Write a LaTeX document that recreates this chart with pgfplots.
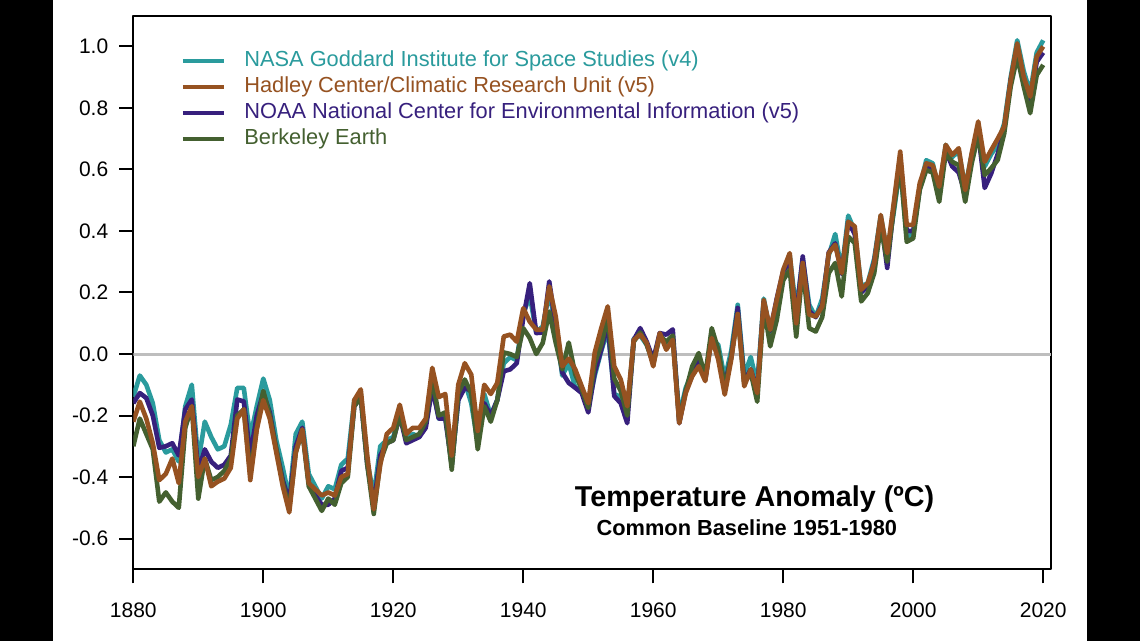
\documentclass[border=0pt]{standalone}
\usepackage{fontspec}
\setmainfont{Liberation Sans}
\usepackage{pgfplots}
\usepackage{pgfplotstable}
\pgfplotsset{compat=1.18}
\definecolor{cnasa}{RGB}{42,155,157}
\definecolor{chad}{RGB}{150,82,33}
\definecolor{cnoaa}{RGB}{55,32,125}
\definecolor{cber}{RGB}{68,96,48}
\definecolor{czero}{RGB}{190,190,190}

\pgfplotstableread{
year nasa hadley noaa berkeley
1880 -0.14 -0.22 -0.16 -0.30
1881 -0.07 -0.155 -0.127 -0.21
1882 -0.10 -0.21 -0.143 -0.26
1883 -0.16 -0.29 -0.20 -0.31
1884 -0.28 -0.41 -0.305 -0.48
1885 -0.32 -0.39 -0.30 -0.45
1886 -0.31 -0.34 -0.29 -0.48
1887 -0.35 -0.42 -0.33 -0.50
1888 -0.17 -0.22 -0.18 -0.24
1889 -0.10 -0.17 -0.148 -0.17
1890 -0.35 -0.40 -0.38 -0.47
1891 -0.22 -0.34 -0.31 -0.34
1892 -0.27 -0.43 -0.35 -0.41
1893 -0.31 -0.415 -0.37 -0.40
1894 -0.30 -0.405 -0.36 -0.38
1895 -0.23 -0.37 -0.33 -0.34
1896 -0.11 -0.21 -0.148 -0.20
1897 -0.11 -0.18 -0.154 -0.18
1898 -0.27 -0.41 -0.33 -0.39
1899 -0.17 -0.245 -0.20 -0.24
1900 -0.08 -0.15 -0.127 -0.12
1901 -0.15 -0.21 -0.19 -0.20
1902 -0.28 -0.32 -0.31 -0.31
1903 -0.37 -0.43 -0.41 -0.42
1904 -0.47 -0.515 -0.48 -0.50
1905 -0.26 -0.32 -0.30 -0.32
1906 -0.22 -0.245 -0.24 -0.25
1907 -0.39 -0.42 -0.42 -0.43
1908 -0.43 -0.44 -0.46 -0.47
1909 -0.47 -0.46 -0.49 -0.51
1910 -0.43 -0.45 -0.49 -0.47
1911 -0.44 -0.46 -0.47 -0.49
1912 -0.36 -0.40 -0.38 -0.42
1913 -0.34 -0.39 -0.37 -0.40
1914 -0.15 -0.15 -0.17 -0.17
1915 -0.13 -0.115 -0.14 -0.14
1916 -0.35 -0.33 -0.36 -0.36
1917 -0.46 -0.505 -0.49 -0.52
1918 -0.30 -0.36 -0.33 -0.35
1919 -0.28 -0.26 -0.29 -0.29
1920 -0.27 -0.24 -0.28 -0.28
1921 -0.19 -0.165 -0.20 -0.197
1922 -0.28 -0.26 -0.29 -0.28
1923 -0.26 -0.24 -0.28 -0.27
1924 -0.27 -0.24 -0.27 -0.26
1925 -0.22 -0.21 -0.24 -0.22
1926 -0.10 -0.045 -0.11 -0.08
1927 -0.21 -0.14 -0.21 -0.20
1928 -0.20 -0.13 -0.21 -0.19
1929 -0.36 -0.33 -0.36 -0.376
1930 -0.15 -0.10 -0.15 -0.127
1931 -0.09 -0.03 -0.11 -0.083
1932 -0.16 -0.067 -0.12 -0.127
1933 -0.29 -0.25 -0.28 -0.31
1934 -0.13 -0.10 -0.16 -0.17
1935 -0.20 -0.13 -0.20 -0.22
1936 -0.15 -0.094 -0.15 -0.15
1937 -0.03 0.057 -0.056 0.005
1938 -0.01 0.063 -0.05 0.0
1939 -0.02 0.04 -0.03 -0.01
1940 0.13 0.149 0.117 0.084
1941 0.19 0.105 0.23 0.052
1942 0.07 0.079 0.068 0.0
1943 0.09 0.079 0.07 0.036
1944 0.20 0.22 0.236 0.138
1945 0.09 0.122 0.09 0.036
1946 -0.07 -0.04 -0.06 -0.05
1947 -0.03 -0.015 -0.094 0.037
1948 -0.11 -0.05 -0.11 -0.066
1949 -0.11 -0.105 -0.127 -0.115
1950 -0.17 -0.16 -0.19 -0.175
1951 -0.07 0.005 -0.06 -0.03
1952 0.01 0.084 0.014 0.03
1953 0.08 0.155 0.10 0.12
1954 -0.13 -0.04 -0.137 -0.08
1955 -0.14 -0.083 -0.16 -0.12
1956 -0.19 -0.17 -0.225 -0.20
1957 0.05 0.046 0.046 0.04
1958 0.06 0.063 0.084 0.07
1959 0.03 0.036 0.04 0.03
1960 -0.03 -0.04 -0.018 -0.03
1961 0.06 0.068 0.068 0.06
1962 0.03 0.014 0.063 0.04
1963 0.05 0.046 0.08 0.06
1964 -0.20 -0.225 -0.225 -0.22
1965 -0.11 -0.127 -0.12 -0.12
1966 -0.06 -0.072 -0.07 -0.04
1967 -0.02 -0.04 -0.02 0.003
1968 -0.08 -0.088 -0.085 -0.072
1969 0.05 0.052 0.06 0.084
1970 0.03 -0.018 0.0 0.014
1971 -0.08 -0.132 -0.10 -0.11
1972 0.01 -0.018 -0.01 -0.01
1973 0.16 0.13 0.15 0.13
1974 -0.07 -0.105 -0.09 -0.095
1975 -0.01 -0.05 -0.05 -0.06
1976 -0.10 -0.127 -0.12 -0.155
1977 0.18 0.176 0.17 0.155
1978 0.07 0.079 0.075 0.025
1979 0.16 0.176 0.18 0.11
1980 0.26 0.274 0.27 0.24
1981 0.32 0.328 0.30 0.274
1982 0.14 0.10 0.12 0.057
1983 0.31 0.296 0.317 0.28
1984 0.16 0.128 0.14 0.084
1985 0.12 0.122 0.12 0.073
1986 0.18 0.155 0.16 0.12
1987 0.32 0.328 0.33 0.263
1988 0.39 0.355 0.36 0.296
1989 0.27 0.263 0.26 0.187
1990 0.45 0.43 0.43 0.382
1991 0.40 0.415 0.39 0.361
1992 0.22 0.209 0.20 0.171
1993 0.23 0.23 0.22 0.198
1994 0.31 0.296 0.30 0.263
1995 0.45 0.452 0.44 0.415
1996 0.33 0.328 0.28 0.30
1997 0.46 0.49 0.48 0.469
1998 0.61 0.658 0.64 0.62
1999 0.38 0.42 0.40 0.365
2000 0.39 0.42 0.40 0.376
2001 0.54 0.555 0.54 0.533
2002 0.63 0.62 0.61 0.598
2003 0.62 0.614 0.60 0.59
2004 0.53 0.544 0.54 0.495
2005 0.68 0.68 0.66 0.653
2006 0.64 0.647 0.61 0.625
2007 0.66 0.669 0.59 0.614
2008 0.54 0.533 0.52 0.495
2009 0.65 0.653 0.64 0.62
2010 0.72 0.756 0.72 0.712
2011 0.61 0.625 0.54 0.582
2012 0.65 0.663 0.587 0.604
2013 0.68 0.70 0.65 0.631
2014 0.75 0.74 0.73 0.717
2015 0.90 0.891 0.89 0.87
2016 1.02 1.01 1.00 0.967
2017 0.92 0.902 0.89 0.87
2018 0.85 0.837 0.82 0.783
2019 0.98 0.967 0.95 0.907
2020 1.02 1.00 0.98 0.94
}\datatable

\begin{document}
\begin{tikzpicture}
\path[use as bounding box, fill=white] (-66.65pt,-35.85pt) rectangle (503.35pt,284.65pt);
\fill[black] (-66.65pt,-35.85pt) rectangle (-40.15pt,284.65pt);
\fill[black] (476.85pt,-35.85pt) rectangle (503.35pt,284.65pt);
\begin{axis}[
  at={(0pt,0pt)}, anchor=south west,
  scale only axis,
  width=458.85pt, height=276.8pt,
  xmin=1880, xmax=2021.2,
  ymin=-0.7, ymax=1.1,
  xtick={1880,1900,...,2020},
  ytick={-0.6,-0.4,...,1.0},
  xtick pos=bottom, ytick pos=left,
  tick align=outside,
  major tick length=7pt,
  axis line style={line width=1pt},
  every tick/.style={line width=1pt, black},
  /pgf/number format/assume math mode=true,
  xticklabel style={/pgf/number format/1000 sep={}, font=\fontsize{10.5}{12}\selectfont, yshift=-6pt},
  yticklabel style={/pgf/number format/fixed, /pgf/number format/fixed zerofill, /pgf/number format/precision=1, font=\fontsize{10.5}{12}\selectfont, xshift=-2pt},
  legend cell align=left,
  legend style={draw=none, fill=none, at={(rel axis cs:0.0515,0.937)}, anchor=north west,
    inner sep=0pt, row sep=2.5pt, column sep=0pt,
    font=\fontsize{10.9}{13}\selectfont,
    nodes={inner xsep=5pt, inner ysep=0pt, text height=8pt, text depth=2.5pt}},
  legend image code/.code={\draw[#1, line width=2pt] (0pt,0pt) -- (20.5pt,0pt); \path (25.5pt,0pt);},
  line join=round,
]
\addlegendimage{cnasa}\addlegendentry[text=cnasa]{NASA Goddard Institute for Space Studies (v4)}
\addlegendimage{chad}\addlegendentry[text=chad]{Hadley Center/Climatic Research Unit (v5)}
\addlegendimage{cnoaa}\addlegendentry[text=cnoaa]{NOAA National Center for Environmental Information (v5)}
\addlegendimage{cber}\addlegendentry[text=cber]{Berkeley Earth}

\addplot[czero, line width=1.5pt, forget plot] coordinates {(1880,0) (2021.2,0)};
\addplot[cnasa, line width=2.3pt, forget plot] table[x=year, y=nasa] {\datatable};
\addplot[cnoaa, line width=2.3pt, forget plot] table[x=year, y=noaa] {\datatable};
\addplot[cber, line width=2.3pt, forget plot] table[x=year, y=berkeley] {\datatable};
\addplot[chad, line width=2.3pt, forget plot] table[x=year, y=hadley] {\datatable};

\node[font=\bfseries\fontsize{14.35}{16}\selectfont] at (rel axis cs:0.677,0.127) {Temperature Anomaly (ºC)};
\node[font=\bfseries\fontsize{10.9}{13}\selectfont] at (rel axis cs:0.6686,0.0746) {Common Baseline 1951-1980};
\end{axis}
\end{tikzpicture}
\end{document}
